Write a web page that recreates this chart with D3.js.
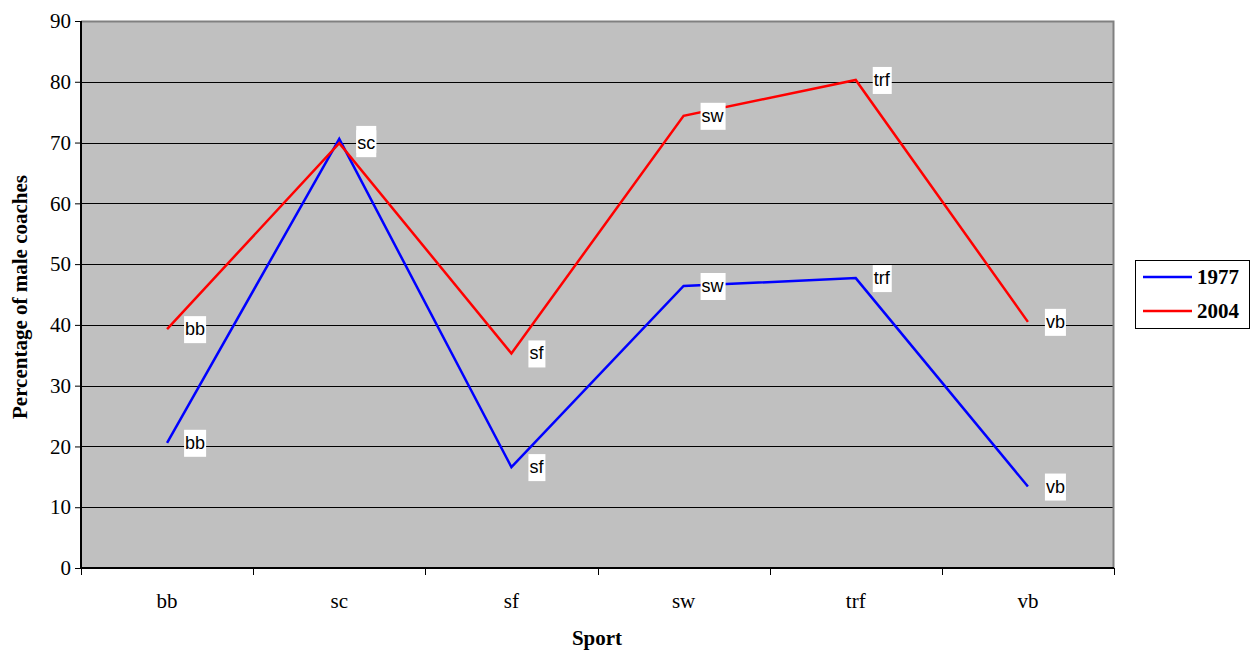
<!DOCTYPE html>
<html>
<head>
<meta charset="utf-8">
<script src="https://cdn.jsdelivr.net/npm/d3@7"></script>
<style>
  html, body { margin: 0; padding: 0; background: #fff; }
  svg { display: block; }
</style>
</head>
<body>
<svg id="chart" width="1253" height="654"></svg>
<script>
// Sports and percentage of male coaches per year
const sports = ["bb", "sc", "sf", "sw", "trf", "vb"];
const values1977 = [20.6, 70.6, 16.6, 46.4, 47.7, 13.4];
const values2004 = [39.3, 69.9, 35.3, 74.4, 80.3, 40.5];
const yTicks = [0, 10, 20, 30, 40, 50, 60, 70, 80, 90];
const seriesNames = ["1977", "2004"];
const seriesColors = ["#0000FF", "#FF0000"];

const series = [
  { name: seriesNames[0], color: seriesColors[0], values: values1977 },
  { name: seriesNames[1], color: seriesColors[1], values: values2004 }
];

const serif = "'Liberation Serif', 'Times New Roman', serif";
const svg = d3.select("#chart");
const plot = { left: 81, right: 1114, top: 21, bottom: 568 };

const x = d3.scaleBand().domain(sports).range([plot.left, plot.right]);
const y = d3.scaleLinear().domain([0, 90]).range([plot.bottom, plot.top]);

// Plot background
svg.append("rect")
  .attr("x", plot.left).attr("y", plot.top)
  .attr("width", plot.right - plot.left).attr("height", plot.bottom - plot.top)
  .attr("fill", "#C0C0C0");

// Horizontal gridlines
svg.append("g")
  .selectAll("line")
  .data(yTicks.filter(d => d > 0 && d < 90))
  .join("line")
  .attr("x1", plot.left).attr("x2", plot.right)
  .attr("y1", d => Math.round(y(d)) + 0.5).attr("y2", d => Math.round(y(d)) + 0.5)
  .attr("stroke", "#000").attr("stroke-width", 1);

// Top and right frame
svg.append("path")
  .attr("d", `M${plot.left},${plot.top + 0.5}H${plot.right - 0.5}V${plot.bottom}`)
  .attr("fill", "none").attr("stroke", "#808080").attr("stroke-width", 2);

// Y axis
const yAxis = d3.axisLeft(y).tickValues(yTicks).tickSize(6).tickPadding(4);
const gy = svg.append("g").attr("transform", `translate(${plot.left},0)`).call(yAxis);
gy.select(".domain").attr("stroke", "#000").attr("stroke-width", 2)
  .attr("d", `M0,${plot.top}V${plot.bottom}`);
gy.selectAll(".tick line").attr("stroke", "#000");
gy.selectAll(".tick text")
  .attr("font-family", serif)
  .attr("font-size", 21).attr("fill", "#000");

// X axis: ticks at band boundaries, labels centered in bands
const gx = svg.append("g").attr("transform", `translate(0,${plot.bottom})`);
gx.append("line")
  .attr("x1", plot.left).attr("x2", plot.right)
  .attr("stroke", "#000").attr("stroke-width", 2);
const bounds = sports.map(s => x(s)).concat([plot.right]);
gx.selectAll(".xtick")
  .data(bounds)
  .join("line")
  .attr("class", "xtick")
  .attr("x1", d => Math.round(d) + 0.5).attr("x2", d => Math.round(d) + 0.5)
  .attr("y1", 0).attr("y2", 7)
  .attr("stroke", "#000");
gx.selectAll(".xlabel")
  .data(sports)
  .join("text")
  .attr("class", "xlabel")
  .attr("x", d => x(d) + x.bandwidth() / 2)
  .attr("y", 40)
  .attr("text-anchor", "middle")
  .attr("font-family", serif)
  .attr("font-size", 21).attr("fill", "#000")
  .text(d => d);

// Axis titles
svg.append("text")
  .attr("x", 597).attr("y", 645)
  .attr("text-anchor", "middle")
  .attr("font-family", serif)
  .attr("font-weight", "bold").attr("font-size", 21)
  .text("Sport");
svg.append("text")
  .attr("transform", "translate(27,297) rotate(-90)")
  .attr("text-anchor", "middle")
  .attr("font-family", serif)
  .attr("font-weight", "bold").attr("font-size", 21)
  .text("Percentage of male coaches");

// Lines
const line = d3.line()
  .x((d, i) => x(sports[i]) + x.bandwidth() / 2)
  .y(d => y(d));

svg.append("g")
  .selectAll("path")
  .data(series)
  .join("path")
  .attr("d", d => line(d.values))
  .attr("fill", "none")
  .attr("stroke", d => d.color)
  .attr("stroke-width", 2.5)
  .attr("stroke-linejoin", "miter");

// Point labels with white boxes
const labelsG = svg.append("g");
series.forEach(s => {
  s.values.forEach((v, i) => {
    const cx = x(sports[i]) + x.bandwidth() / 2 + 17;
    const cy = y(v);
    const g = labelsG.append("g");
    const t = g.append("text")
      .attr("x", cx + 1).attr("y", cy + 6)
      .attr("font-family", "'Liberation Sans', Arial, sans-serif")
      .attr("font-size", 18).attr("fill", "#000")
      .text(sports[i]);
    const bb = t.node().getBBox();
    g.insert("rect", "text")
      .attr("x", bb.x - 1).attr("y", cy - 13)
      .attr("width", bb.width + 2).attr("height", 27)
      .attr("fill", "#fff");
  });
});

// Legend
const legend = svg.append("g");
legend.append("rect")
  .attr("x", 1135.5).attr("y", 260.5)
  .attr("width", 114).attr("height", 68)
  .attr("fill", "#fff").attr("stroke", "#000").attr("stroke-width", 1);
series.forEach((s, i) => {
  const ly = 277 + i * 34;
  legend.append("line")
    .attr("x1", 1143).attr("x2", 1192)
    .attr("y1", ly).attr("y2", ly)
    .attr("stroke", s.color).attr("stroke-width", 2.5);
  legend.append("text")
    .attr("x", 1197).attr("y", ly + 7)
    .attr("font-family", serif)
    .attr("font-weight", "bold").attr("font-size", 21)
    .text(s.name);
});
</script>
</body>
</html>
